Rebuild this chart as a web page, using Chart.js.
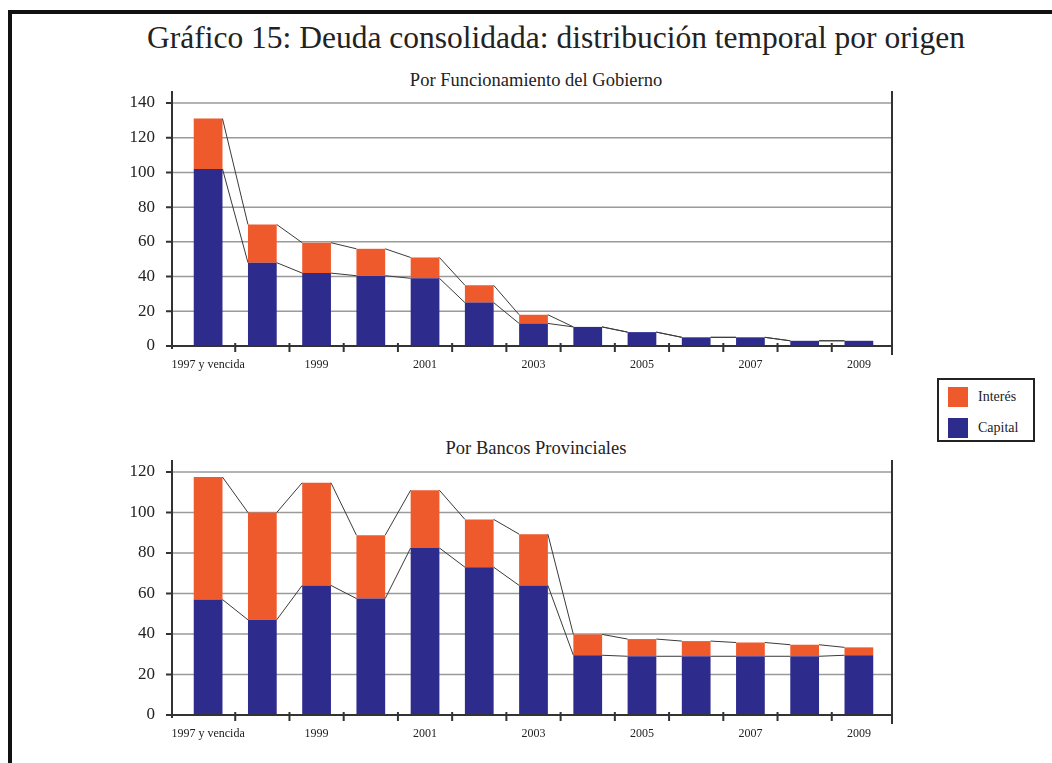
<!DOCTYPE html>
<html>
<head>
<meta charset="utf-8">
<script src="https://cdn.jsdelivr.net/npm/chart.js@4"></script>
<style>
  body { margin: 0; background: #fff; width: 1052px; height: 763px; overflow: hidden; position: relative; font-family: "Liberation Serif", "Times New Roman", serif; }
  .frame { position: absolute; left: 8px; top: 10px; width: 1060px; height: 749px; border-top: 4px solid #111; border-left: 4px solid #111; border-bottom: 2px solid #888; }
  .title { position: absolute; left: 0; width: 1112px; top: 18px; line-height: 40px; text-align: center; font-size: 31.5px; color: #222; }
  .sub { position: absolute; left: 176px; width: 720px; line-height: 20px; text-align: center; font-size: 18.5px; color: #222; }
  canvas { position: absolute; }
  .legend { position: absolute; left: 937px; top: 378px; width: 94px; height: 60px; border: 2px solid #222; font-size: 14px; color: #222; }
  .legend div { position: absolute; left: 9px; height: 20px; line-height: 20px; }
  .legend span { display: inline-block; width: 20px; height: 20px; vertical-align: top; margin-right: 10px; }
</style>
</head>
<body>
<div class="frame"></div>
<div class="title">Gráfico 15: Deuda consolidada: distribución temporal por origen</div>
<div class="sub" style="top:70px">Por Funcionamiento del Gobierno</div>
<div class="sub" style="top:438px">Por Bancos Provinciales</div>
<canvas id="top" width="790" height="300" style="left:120px;top:80px"></canvas>
<canvas id="bottom" width="790" height="300" style="left:120px;top:450px"></canvas>
<div class="legend">
  <div style="top:7px"><span style="background:#ee5a2c"></span>Interés</div>
  <div style="top:38px"><span style="background:#2d2b8c"></span>Capital</div>
</div>
<script>
// categorías (años)
const categories = ['1997 y vencida', '1998', '1999', '2000', '2001', '2002', '2003', '2004', '2005', '2006', '2007', '2008', '2009'];

// Por Funcionamiento del Gobierno
const gobCapital = [102, 48, 42, 40.5, 39, 25, 13, 11, 8, 5, 5, 3, 3];
const gobInteres = [29, 22, 17.5, 15.5, 12, 10, 5, 0, 0, 0, 0, 0, 0];

// Por Bancos Provinciales
const bancosCapital = [57, 47, 64, 57.5, 82.5, 73, 64, 29.5, 29, 29, 29, 29, 29.5];
const bancosInteres = [60.5, 53, 50.7, 31.3, 28.5, 23.6, 25.3, 10.3, 8.5, 7.5, 6.8, 5.7, 3.9];

const yTicksTop = [0, 20, 40, 60, 80, 100, 120, 140];
const yTicksBottom = [0, 20, 40, 60, 80, 100, 120];

const colorCapital = '#2d2b8c';
const colorInteres = '#ee5a2c';

// ejes estilo Excel: el eje Y queda un poco a la izquierda de la primera categoría
const excelAxes = {
    id: 'excelAxes',
    beforeDatasetsDraw(chart) {
        const ctx = chart.ctx;
        const a = chart.chartArea;
        const ys = chart.scales.y;
        ctx.save();
        ctx.strokeStyle = '#9a9a9a';
        ctx.lineWidth = 1.5;
        ys.ticks.forEach(t => {
            if (t.value === 0) return;
            const py = ys.getPixelForValue(t.value);
            ctx.beginPath();
            ctx.moveTo(a.left - 9, py);
            ctx.lineTo(a.right + 6, py);
            ctx.stroke();
        });
        ctx.restore();
    },
    afterDatasetsDraw(chart) {
        const ctx = chart.ctx;
        const a = chart.chartArea;
        const xs = chart.scales.x, ys = chart.scales.y;
        const axL = a.left - 9, axR = a.right + 6, axT = a.top - 12;
        ctx.save();
        // líneas de serie
        ctx.strokeStyle = '#3a3a3a';
        ctx.lineWidth = 1;
        chart.data.datasets.forEach((ds, i) => {
            const bars = chart.getDatasetMeta(i).data;
            for (let j = 0; j < bars.length - 1; j++) {
                const p = bars[j], q = bars[j + 1];
                ctx.beginPath();
                ctx.moveTo(p.x + p.width / 2, p.y);
                ctx.lineTo(q.x - q.width / 2, q.y);
                ctx.stroke();
            }
        });
        ctx.strokeStyle = '#333';
        ctx.lineWidth = 2;
        ctx.beginPath();
        // eje Y
        ctx.moveTo(axL, axT);
        ctx.lineTo(axL, a.bottom + 3);
        ys.ticks.forEach(t => {
            const py = ys.getPixelForValue(t.value);
            ctx.moveTo(axL - 6, py);
            ctx.lineTo(axL, py);
        });
        // eje X
        ctx.moveTo(axL - 4, a.bottom);
        ctx.lineTo(axR, a.bottom);
        for (let i = 1; i < categories.length; i++) {
            const px = (xs.getPixelForValue(i - 1) + xs.getPixelForValue(i)) / 2;
            ctx.moveTo(px, a.bottom - 3);
            ctx.lineTo(px, a.bottom + 6);
        }
        // borde derecho
        ctx.moveTo(axR, axT);
        ctx.lineTo(axR, a.bottom + 9);
        ctx.stroke();
        ctx.restore();
    }
};

function makeChart(id, capital, interes, yMax, yTicks, padTop, xHeight) {
    const ctx = document.getElementById(id).getContext('2d');
    return new Chart(ctx, {
        type: 'bar',
        data: {
            labels: categories,
            datasets: [
                { label: 'Capital', data: capital, backgroundColor: colorCapital, barPercentage: 0.53, categoryPercentage: 1 },
                { label: 'Interés', data: interes, backgroundColor: colorInteres, barPercentage: 0.53, categoryPercentage: 1 }
            ]
        },
        options: {
            responsive: false,
            animation: false,
            devicePixelRatio: 1,
            layout: { padding: { top: padTop, right: 24, left: 0, bottom: 0 } },
            plugins: { legend: { display: false }, tooltip: { enabled: false } },
            scales: {
                x: {
                    stacked: true,
                    grid: { display: false, drawTicks: false },
                    border: { display: false },
                    ticks: {
                        autoSkip: false, maxRotation: 0, color: '#222', padding: 12,
                        font: { family: 'Liberation Serif', size: 12 },
                        callback: (v, i) => i % 2 === 0 ? categories[i] : ''
                    },
                    afterFit: s => { s.height = xHeight; }
                },
                y: {
                    stacked: true,
                    min: 0,
                    max: yMax,
                    ticks: { color: '#222', padding: 26, font: { family: 'Liberation Serif', size: 17 } },
                    afterBuildTicks: s => { s.ticks = yTicks.map(v => ({ value: v })); },
                    grid: { display: false, drawTicks: false },
                    border: { display: false },
                    afterFit: s => { s.width = 61; s.paddingTop = 0; s.paddingBottom = 0; }
                }
            }
        },
        plugins: [excelAxes]
    });
}

makeChart('top', gobCapital, gobInteres, 140, yTicksTop, 23, 34);
makeChart('bottom', bancosCapital, bancosInteres, 120, yTicksBottom, 22, 35);
</script>
</body>
</html>
